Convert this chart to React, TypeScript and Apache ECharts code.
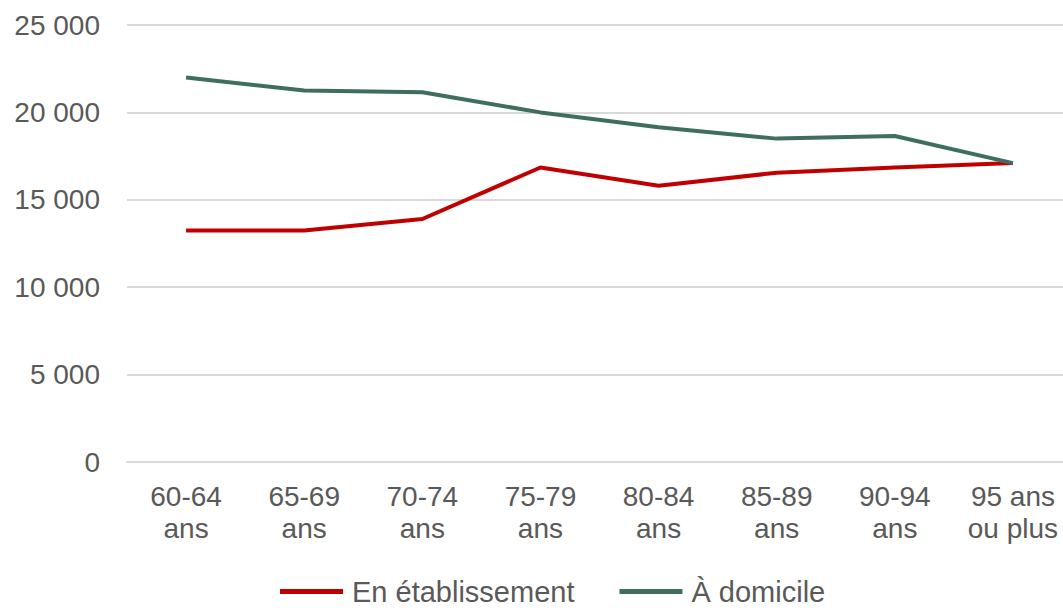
import React, { useEffect, useRef } from "react";
import * as echarts from "echarts";

const categories = ["60-64\nans", "65-69\nans", "70-74\nans", "75-79\nans", "80-84\nans", "85-89\nans", "90-94\nans", "95 ans\nou plus"];
const enEtablissement = [13250, 13250, 13900, 16850, 15800, 16550, 16850, 17100];
const aDomicile = [22000, 21250, 21150, 20000, 19150, 18500, 18650, 17100];
const seriesNames = ["En établissement", "À domicile"];
const yTicks = { min: 0, max: 25000, interval: 5000 };

export default function App() {
  const ref = useRef<HTMLDivElement>(null);
  useEffect(() => {
    if (!ref.current) return;
    const chart = echarts.init(ref.current, null, { renderer: "svg" });
    const font = "'Liberation Sans', Arial, sans-serif";
    chart.setOption({
      animation: false,
      backgroundColor: "#ffffff",
      textStyle: { fontFamily: font },
      grid: { left: 127, right: 0, top: 25, height: 437, containLabel: false },
      legend: {
        left: 280,
        top: 577,
        padding: 0,
        icon: "rect",
        itemWidth: 63,
        itemHeight: 5,
        itemGap: 45,
        textStyle: { fontSize: 29, color: "#595959", fontFamily: font, padding: [0, 0, 0, 4] },
        data: seriesNames,
      },
      xAxis: {
        type: "category",
        data: categories,
        boundaryGap: true,
        axisLine: { show: true, lineStyle: { color: "#d9d9d9", width: 2 } },
        axisTick: { show: false },
        axisLabel: {
          fontSize: 28,
          color: "#595959",
          lineHeight: 32,
          margin: 18,
          interval: 0,
          fontFamily: font,
        },
      },
      yAxis: {
        type: "value",
        min: yTicks.min,
        max: yTicks.max,
        interval: yTicks.interval,
        axisLine: { show: false },
        axisTick: { show: false },
        splitLine: { lineStyle: { color: "#d9d9d9", width: 2 } },
        axisLabel: {
          fontSize: 28,
          color: "#595959",
          margin: 27,
          fontFamily: font,
          formatter: (v: number) => String(v).replace(/\B(?=(\d{3})+(?!\d))/g, " "),
        },
      },
      series: [
        {
          name: seriesNames[0],
          type: "line",
          data: enEtablissement,
          symbol: "none",
          lineStyle: { color: "#C00000", width: 4 },
          itemStyle: { color: "#C00000" },
        },
        {
          name: seriesNames[1],
          type: "line",
          data: aDomicile,
          symbol: "none",
          lineStyle: { color: "#406E5E", width: 4 },
          itemStyle: { color: "#406E5E" },
        },
      ],
    });
    return () => chart.dispose();
  }, []);
  return (
    <div style={{ position: "fixed", left: 0, top: 0, width: 1063, height: 610, overflow: "hidden", background: "#fff" }}>
      <div ref={ref} style={{ width: 1072, height: 610 }} />
    </div>
  );
}
